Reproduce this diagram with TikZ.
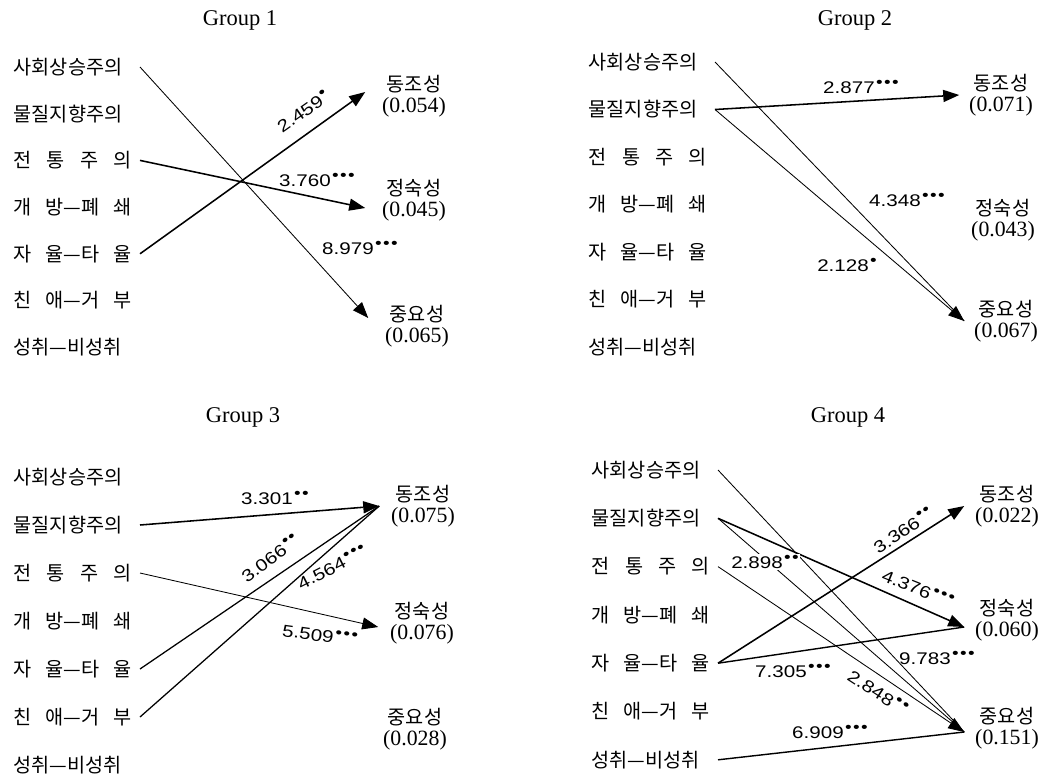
\documentclass[tikz,border=0pt]{standalone}
\usepackage{fontspec}
\setmainfont{Liberation Serif}
\newfontfamily\kr{Noto Sans CJK KR}
\newfontfamily\nm[FakeStretch=1.22]{Liberation Sans}
\usetikzlibrary{arrows.meta}
\newcommand{\coef}[1]{{\rmfamily\fontsize{15.5}{15}\selectfont(#1)}}
\newcommand{\sig}[1]{\kern1pt\raisebox{0.7ex}{\fontsize{11}{11}\selectfont #1}}
\newcommand{\rows}{mob/사회상승주의, mat/물질지향주의, trad/전\hfill 통\hfill 주\hfill 의,
  open/개\hfill 방—폐\hfill 쇄, auto/자\hfill 율—타\hfill 율, affi/친\hfill 애—거\hfill 부,
  achv/성취—비성취}

\begin{document}
\begin{tikzpicture}[x=0.25mm, y=-0.25mm, >={Triangle[length=4mm, width=3mm]},
  ttl/.style={font=\fontsize{16}{16}\selectfont},
  src/.style={anchor=east, inner xsep=2mm, inner ysep=1mm, font=\kr\fontsize{14}{14}\selectfont},
  rt/.style={align=center, inner sep=0.5mm, outer xsep=#1, font=\kr\fontsize{14}{15}\selectfont},
  val/.style={font=\nm\fontsize{12}{12}\selectfont, inner sep=1pt},
  s/.style={->, draw=black, line width=0.6pt},
  t/.style={->, draw=black, line width=1.1pt},
  ln/.style={draw=black, line width=0.6pt}]
\useasboundingbox (0,0) rectangle (1053,777);
% Group 1 (top left).
\node[ttl] (title1) at (240,20) {Group 1};
\foreach \n/\t [count=\i] in \rows
  \node[src] (\n1) at (140,{67+46.7*(\i-1)}) {\makebox[29.5mm][s]{\t}};
\node[rt=3.75mm] (conf1) at (414,96) {동조성\\\coef{0.054}};
\node[rt=3.75mm] (matu1) at (414,200) {정숙성\\\coef{0.045}};
\node[rt=3.75mm] (impt1) at (417,326) {중요성\\\coef{0.065}};
\draw[s] (mob1.east)--([yshift=2mm]impt1.west);
\draw[t] (trad1.east)--([yshift=-2mm]matu1.west);
\draw[t] (auto1.east)--([yshift=1mm]conf1.west);
\node[val, rotate=35] (v11) at (303,111) {2.459\sig{•}};
\node[val] (v12) at (317,180) {3.760\sig{•\kern1pt•\kern1pt•}};
\node[val] (v13) at (360,248) {8.979\sig{•\kern1pt•\kern1pt•}};
% Group 2 (top right).
\node[ttl] (title2) at (855,20) {Group 2};
\foreach \n/\t [count=\i] in \rows
  \node[src] (\n2) at (715,{62+47.5*(\i-1)}) {\makebox[29.5mm][s]{\t}};
\node[rt=2mm] (conf2) at (1001,95) {동조성\\\coef{0.071}};
\node[rt=2mm] (matu2) at (1003,220) {정숙성\\\coef{0.043}};
\node[rt=2mm] (impt2) at (1006,321) {중요성\\\coef{0.067}};
\draw[ln] (mob2.east)--(impt2.west);
\draw[t] (mat2.east)--(conf2.west);
\draw[s] (mat2.east)--(impt2.west);
\node[val] (v21) at (861,87) {2.877\sig{•\kern1pt•\kern1pt•}};
\node[val] (v22) at (907,200) {4.348\sig{•\kern1pt•\kern1pt•}};
\node[val] (v23) at (847,265) {2.128\sig{•}};
% Group 3 (bottom left).
\node[ttl] (title3) at (243,417) {Group 3};
\foreach \n/\t [count=\i] in \rows
  \node[src] (\n3) at (140,{477+48*(\i-1)}) {\makebox[29.5mm][s]{\t}};
\node[rt=2.5mm] (conf3) at (423,506) {동조성\\\coef{0.075}};
\node[rt=2.5mm] (matu3) at (422,623) {정숙성\\\coef{0.076}};
\node[rt=2.5mm] (impt3) at (415,729) {중요성\\\coef{0.028}};
\draw[t] (mat3.east)--(conf3.west);
\draw[s] (trad3.east)--([yshift=-1mm]matu3.west);
\draw[ln, line width=0.9pt] (auto3.east)--(conf3.west);
\draw[ln, line width=0.9pt] (affi3.east)--(conf3.west);
\node[val] (v31) at (275,498) {3.301\sig{•\kern1pt•}};
\node[val, rotate=37] (v32) at (270,558) {3.066\sig{•\kern1pt•}};
\node[val, rotate=27] (v33) at (332,567) {4.564\sig{•\kern1pt•\kern1pt•}};
\node[val, rotate=-8] (v34) at (320,635) {5.509\sig{•\kern1pt•\kern1pt•}};
% Group 4 (bottom right).
\node[ttl] (title4) at (848,417) {Group 4};
\foreach \n/\t [count=\i] in \rows
  \node[src] (\n4) at (718,{470+48.3*(\i-1)}) {\makebox[29.5mm][s]{\t}};
\node[rt=2.25mm] (conf4) at (1007,506) {동조성\\\coef{0.022}};
\node[rt=2.25mm] (matu4) at (1007,620) {정숙성\\\coef{0.060}};
\node[rt=2.25mm] (impt4) at (1007,728) {중요성\\\coef{0.151}};
\draw[ln] (mob4.east)--([yshift=-1mm]impt4.west);
\draw[t] (mat4.east)--([yshift=-1.75mm]matu4.west);
\draw[ln] (mat4.east)--([yshift=-1mm]impt4.west);
\draw[s] (trad4.east)--([yshift=-1mm]impt4.west);
\draw[t] (auto4.east)--(conf4.west);
\draw[ln, line width=1pt] (auto4.east)--([yshift=-1.75mm]matu4.west);
\draw[ln, line width=1pt] (achv4.east)--([yshift=-1mm]impt4.west);
\node[val, rotate=34] (v41) at (903,530) {3.366\sig{•\kern1pt•}};
\node[val, fill=white] (v42) at (765,562) {2.898\sig{•\kern1pt•}};
\node[val, rotate=-22] (v43) at (918,588) {4.376\sig{•\kern1pt•\kern1pt•}};
\node[val] (v44) at (937,658) {9.783\sig{•\kern1pt•\kern1pt•}};
\node[val] (v45) at (793,671) {7.305\sig{•\kern1pt•\kern1pt•}};
\node[val, rotate=-33] (v46) at (878,692) {2.848\sig{•\kern1pt•}};
\node[val] (v47) at (830,732) {6.909\sig{•\kern1pt•\kern1pt•}};
\end{tikzpicture}
\end{document}
